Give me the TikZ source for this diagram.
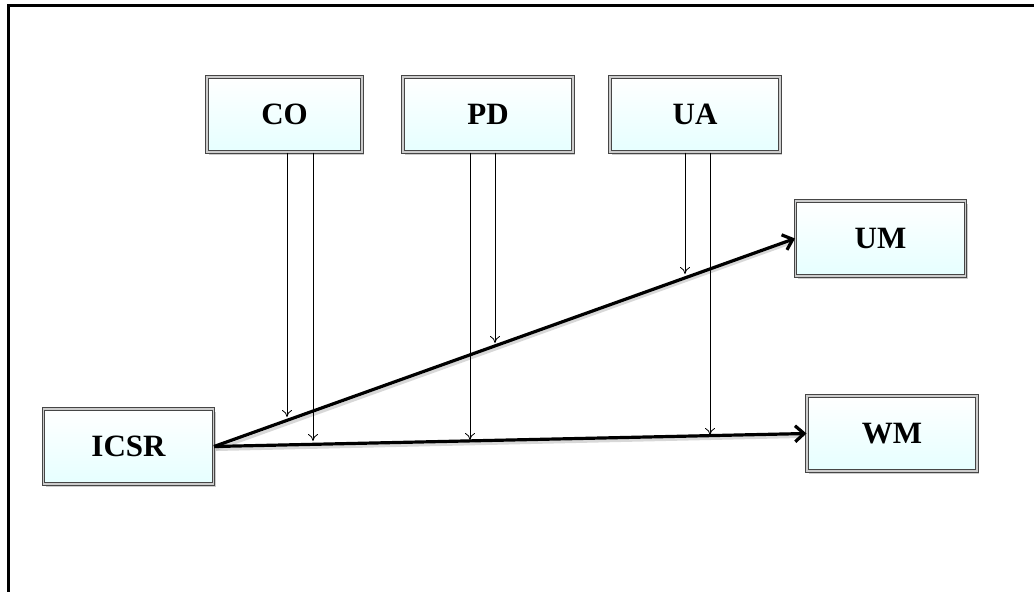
\documentclass[tikz,border=0pt]{standalone}
\usepackage{fontspec}
\setmainfont{Liberation Serif}
\usetikzlibrary{arrows.meta,shadows,calc}
\begin{document}
\begin{tikzpicture}[x=1pt,y=-1pt,
  box/.style={draw=gray!55!black, line width=1pt, double=gray!40, double distance=1.8pt,
    left color=white, right color=cyan!10, shading angle=0,
    drop shadow={shadow xshift=2pt, shadow yshift=-2.5pt, opacity=0.4},
    minimum width=170pt, minimum height=75pt, inner sep=0pt,
    font=\fontsize{31}{33}\selectfont\bfseries},
  thin/.style={line width=0.8pt, -{To[length=7pt,width=10pt]}},
  thick/.style={line width=3.2pt, -{Straight Barb[length=9pt,width=16pt]}},
  shade/.style={line width=3pt, gray!60, opacity=0.5}]
\useasboundingbox (0,0) rectangle (1034,592);
\draw[line width=3pt] (1034,5.5) -- (8,5.5) -- (8,592);
\node[box, minimum width=155pt] (co) at (284.5,114.5) {CO};
\node[box] (pd) at (488,114.5) {PD};
\node[box] (ua) at (695,114.5) {UA};
\node[box] (um) at (880.5,238.5) {UM};
\node[box] (wm) at (892,433.5) {WM};
\node[box] (icsr) at (128.5,446.5) {ICSR};
% shadows of thick lines
\draw[shade] ($(icsr.east)+(2,3)$) -- ($(um.west)+(-6,5)$);
\draw[shade] ($(icsr.east)+(2,3)$) -- ($(wm.west)+(-6,3)$);
\draw[thick] (icsr.east) -- (um.west);
\draw[thick] (icsr.east) -- (wm.west);
\coordinate (c1) at (287,417);
\coordinate (c2) at (313,441);
\coordinate (p1) at (470,440);
\coordinate (p2) at (495,343);
\coordinate (u1) at (685,274);
\coordinate (u2) at (710,435);
\draw[thin] (co.south -| c1) -- (c1);
\draw[thin] (co.south -| c2) -- (c2);
\draw[thin] (pd.south -| p1) -- (p1);
\draw[thin] (pd.south -| p2) -- (p2);
\draw[thin] (ua.south -| u1) -- (u1);
\draw[thin] (ua.south -| u2) -- (u2);
\end{tikzpicture}
\end{document}
